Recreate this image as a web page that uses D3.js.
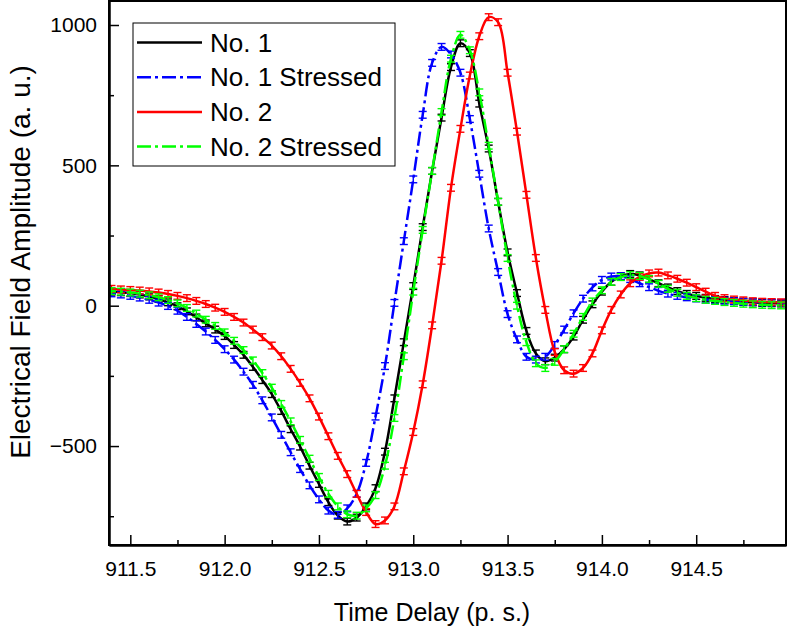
<!DOCTYPE html>
<html><head><meta charset="utf-8">
<script src="https://cdn.jsdelivr.net/npm/d3@7"></script>
<style>body{margin:0;background:#fff} svg{display:block;font-family:"Liberation Sans",Arial,sans-serif}</style>
</head><body><svg id="chart" width="787" height="630"></svg>
<script>
// ---- data ----
const timeDelay = [911.35,911.40,911.45,911.50,911.55,911.60,911.65,911.70,911.75,911.80,911.85,911.90,911.95,
  912.00,912.05,912.10,912.15,912.20,912.25,912.30,912.35,912.40,912.45,912.50,912.55,912.60,912.65,912.70,912.75,912.80,912.85,912.90,912.95,
  913.00,913.05,913.10,913.15,913.20,913.25,913.30,913.35,913.40,913.45,913.50,913.55,913.60,913.65,913.70,913.75,913.80,913.85,913.90,913.95,
  914.00,914.05,914.10,914.15,914.20,914.25,914.30,914.35,914.40,914.45,914.50,914.55,914.60,914.65,914.70,914.75,914.80,914.85,914.90,914.95,915.00];
const no1 = [52,50,48,45,40,33,24,12,-2,-20,-42,-63,-85,
  -108,-140,-175,-218,-265,-315,-375,-440,-502,-570,-635,-700,-748,-769,-755,-715,-650,-520,-330,-130,
  70,280,480,670,850,935,900,720,560,370,190,45,-90,-170,-198,-185,-155,-110,-50,5,
  50,85,105,113,108,95,80,65,52,42,35,28,24,20,17,14,12,10,9,8,7];
const no1Stressed = [46,44,40,35,29,21,11,-1,-18,-40,-65,-92,-122,
  -155,-192,-235,-282,-337,-398,-460,-522,-582,-640,-690,-730,-745,-722,-670,-560,-395,-215,10,230,
  450,680,865,922,895,830,665,470,275,120,-30,-120,-182,-192,-182,-140,-85,-27,25,65,
  92,104,105,95,80,66,53,43,35,30,26,22,20,18,16,14,13,12,11,10,10];
const no2 = [60,60,58,56,54,51,47,42,35,27,17,6,-7,
  -22,-40,-60,-85,-112,-142,-180,-225,-275,-330,-395,-465,-535,-600,-670,-735,-778,-765,-715,-590,
  -450,-280,-70,160,420,630,820,960,1028,1010,830,620,395,170,-15,-165,-230,-242,-222,-170,
  -88,-15,40,80,103,115,118,108,96,82,66,50,35,27,22,19,16,14,13,12,12];
const no2Stressed = [53,52,50,47,43,37,30,20,8,-8,-28,-50,-72,
  -95,-125,-158,-195,-240,-292,-350,-412,-478,-545,-610,-670,-715,-743,-748,-722,-675,-570,-400,-180,
  50,270,480,690,880,965,910,760,570,370,170,0,-130,-205,-222,-200,-155,-100,-40,15,
  55,85,102,109,106,95,78,60,46,35,27,21,17,13,10,7,5,3,2,1,0];
const seriesNames = ["No. 1","No. 1 Stressed","No. 2","No. 2 Stressed"];
const seriesValues = [no1, no1Stressed, no2, no2Stressed];
const errorHalf = 12; // amplitude error bar half-height (a. u.)
const xTickValues = [911.5,912.0,912.5,913.0,913.5,914.0,914.5];
const xMinorTicks = [911.75,912.25,912.75,913.25,913.75,914.25,914.75];
const yTickValues = [-500,0,500,1000];
const yMinorTicks = [-750,-250,250,750];
const xTitle = "Time Delay (p. s.)";
const yTitle = "Electrical Field Amplitude (a. u.)";

// ---- styles ----
const colors = ["#000000","#0000ff","#ff0000","#00ff00"];
const dashes = [null,"14,4,3,4",null,"14,4,3,4"];

const svg = d3.select("#chart");
const L = 109, R = 786, T = 1, B = 545;
const x = d3.scaleLinear().domain([911.387, 914.976]).range([L, R]);
const y = d3.scaleLinear().domain([-852.5, 1085.5]).range([B, T]);

svg.append("clipPath").attr("id","clip").append("rect")
  .attr("x",L).attr("y",T).attr("width",R-L).attr("height",B-T);

const plot = svg.append("g").attr("clip-path","url(#clip)");
const line = d3.line().x((d,i)=>x(timeDelay[i])).y(d=>y(d)).curve(d3.curveCatmullRom.alpha(0.5));

seriesValues.forEach((vals,s)=>{
  const g = plot.append("g");
  g.append("path").datum(vals).attr("d",line).attr("fill","none")
    .attr("stroke",colors[s]).attr("stroke-width",2.5)
    .attr("stroke-dasharray",dashes[s]);
  const m = g.selectAll("g.m").data(vals).join("g").attr("class","m")
    .attr("stroke",colors[s]).attr("stroke-width",1.4);
  m.append("line").attr("x1",(d,i)=>x(timeDelay[i])).attr("x2",(d,i)=>x(timeDelay[i]))
    .attr("y1",d=>y(d+errorHalf)).attr("y2",d=>y(d-errorHalf));
  m.append("line").attr("x1",(d,i)=>x(timeDelay[i])-4).attr("x2",(d,i)=>x(timeDelay[i])+4)
    .attr("y1",d=>y(d+errorHalf)).attr("y2",d=>y(d+errorHalf));
  m.append("line").attr("x1",(d,i)=>x(timeDelay[i])-4).attr("x2",(d,i)=>x(timeDelay[i])+4)
    .attr("y1",d=>y(d-errorHalf)).attr("y2",d=>y(d-errorHalf));
});

// frame
svg.append("rect").attr("x",L).attr("y",T).attr("width",R-L).attr("height",B-T)
  .attr("fill","none").attr("stroke","#000").attr("stroke-width",2);

// axes
svg.append("g").attr("transform",`translate(0,${B})`)
  .call(d3.axisBottom(x).tickValues(xTickValues).tickFormat(d3.format(".1f")).tickSizeInner(-10).tickSizeOuter(0).tickPadding(16));
svg.append("g").attr("transform",`translate(0,${B})`)
  .call(d3.axisBottom(x).tickValues(xMinorTicks).tickFormat("").tickSizeInner(-5).tickSizeOuter(0));
svg.append("g").attr("transform",`translate(${L},0)`)
  .call(d3.axisLeft(y).tickValues(yTickValues).tickFormat(d3.format("d")).tickSizeInner(-10).tickSizeOuter(0).tickPadding(12));
svg.append("g").attr("transform",`translate(${L},0)`)
  .call(d3.axisLeft(y).tickValues(yMinorTicks).tickFormat("").tickSizeInner(-5).tickSizeOuter(0));
svg.selectAll(".domain").attr("stroke","#000").attr("stroke-width",2);
svg.selectAll(".tick line").attr("stroke","#000").attr("stroke-width",1.5);
svg.selectAll(".tick text").attr("font-family","Liberation Sans, Arial, sans-serif").attr("font-size",21).attr("fill","#000");

svg.append("text").attr("x",432).attr("y",621).attr("text-anchor","middle")
  .attr("font-size",25).text(xTitle);
svg.append("text").attr("transform",`translate(30,262) rotate(-90)`).attr("text-anchor","middle")
  .attr("font-size",28).text(yTitle);

// legend
const lg = svg.append("g");
lg.append("rect").attr("x",133).attr("y",23).attr("width",262).attr("height",143)
  .attr("fill","#fff").attr("stroke","#000").attr("stroke-width",1);
seriesNames.forEach((n,i)=>{
  const yy = 42.5 + i*34.7;
  lg.append("line").attr("x1",137).attr("x2",202).attr("y1",yy).attr("y2",yy)
    .attr("stroke",colors[i]).attr("stroke-width",2.5).attr("stroke-dasharray",dashes[i]);
  lg.append("text").attr("x",210).attr("y",yy).attr("dy","0.35em").attr("font-size",26).text(n);
});
</script></body></html>
